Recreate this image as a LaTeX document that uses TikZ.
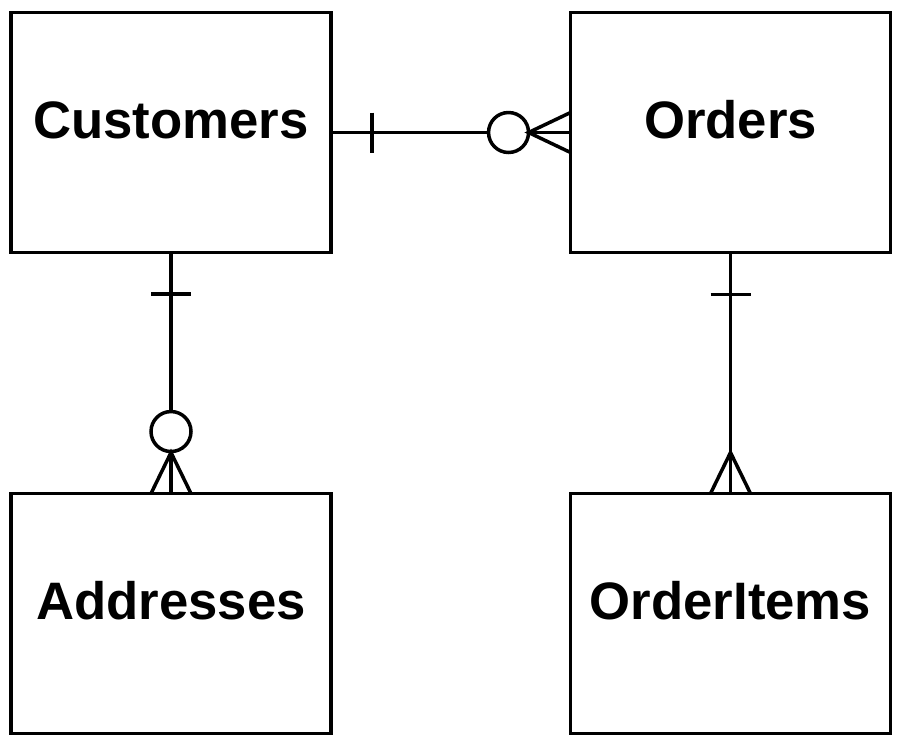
\documentclass[tikz,border=0pt]{standalone}
\usepackage{fontspec}
\setmainfont{Liberation Sans}
\usetikzlibrary{calc,positioning}
\tikzset{
  entity/.style={draw, line width=0.07cm, minimum width=6.4cm, minimum height=4.8cm, inner sep=0pt, outer sep=0pt},
  title/.style={font=\bfseries\fontsize{30}{30}\selectfont, anchor=base, inner sep=0pt},
  rel/.style={line width=0.07cm}
}
\begin{document}
\begin{tikzpicture}[x=0.02cm,y=-0.02cm]
  \useasboundingbox (0,0) rectangle (902,748);
  % entities
  \node[entity] (cust) at (171,132.5) {};
  \node[entity] (ord) at (730.5,132.5) {};
  \node[entity] (addr) at (171,613.5) {};
  \node[entity] (item) at (730.5,613.5) {};
  \foreach \N/\T in {cust/Customers, ord/Orders, addr/Addresses, item/OrderItems}{
    \node[title] (\N txt) at ([yshift=-0.11cm]\N.center) {\T};
  }
  % Customers -- Orders: one to zero-or-many
  \draw[rel] (cust.east) -- ($(ord.west)+(-82,0)$) coordinate (co1);
  \draw[rel] ($(cust.east)+(41,-20)$) -- ($(cust.east)+(41,20)$);
  \draw[rel] ($(ord.west)+(-62,0)$) circle[radius=0.4cm];
  \draw[rel] ($(ord.west)+(-42,0)$) coordinate (co2) -- (ord.west);
  \draw[rel] ($(ord.west)+(0,-20)$) -- (co2) -- ($(ord.west)+(0,20)$);
  % Customers -- Addresses: one to zero-or-many
  \draw[rel] (cust.south) -- ($(addr.north)+(0,-82)$) coordinate (ca1);
  \draw[rel] ($(cust.south)+(-20,41.5)$) -- ($(cust.south)+(20,41.5)$);
  \draw[rel] ($(addr.north)+(0,-62)$) circle[radius=0.4cm];
  \draw[rel] ($(addr.north)+(0,-41)$) coordinate (ca2) -- (addr.north);
  \draw[rel] ($(addr.north)+(-20,0)$) -- (ca2) -- ($(addr.north)+(20,0)$);
  % Orders -- OrderItems: one to many
  \draw[rel] (ord.south) -- (item.north);
  \draw[rel] ($(ord.south)+(-20,42)$) -- ($(ord.south)+(20,42)$);
  \coordinate (oi) at ($(item.north)+(0,-41)$);
  \draw[rel] ($(item.north)+(-20,0)$) -- (oi) -- ($(item.north)+(20,0)$);
\end{tikzpicture}
\end{document}
